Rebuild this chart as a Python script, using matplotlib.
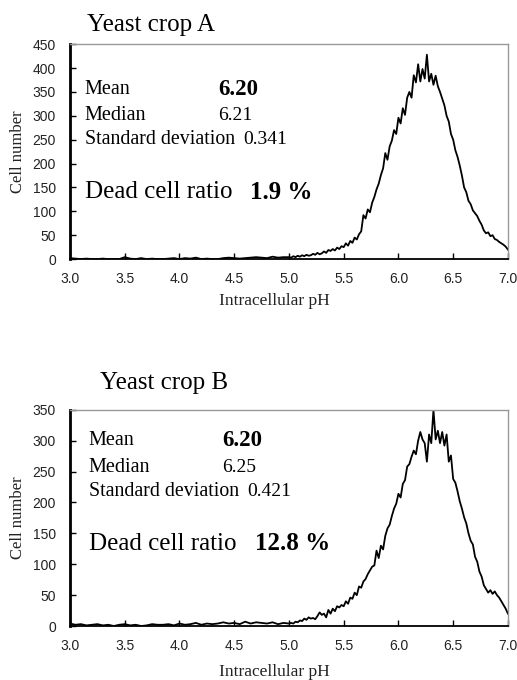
import numpy as np
import matplotlib
matplotlib.use("Agg")
from matplotlib import pyplot as plt

# pH de 3.00 a 4.95 (pas 0.05) puis 5.00 a 7.00 (pas 0.02)
low_a = [2, 1, 0, 1, 0, 0, 1, 0, 0, 0, 4, 1, 0, 2, 0, 1, 0, 0, 1, 2,
         0, 2, 1, 3, 0, 1, 0, 0, 2, 3, 2, 1, 2, 3, 4, 3, 2, 5, 3, 4]
high_a = [4, 3, 6, 4, 7, 5, 8, 6, 9, 7, 8, 11, 9, 13, 10, 12, 16, 13, 19, 17,
          21, 18, 24, 21, 27, 25, 33, 28, 38, 34, 45, 41, 52, 58, 92, 85, 104, 98, 118, 130,
          146, 158, 176, 190, 222, 208, 236, 248, 270, 262, 296, 284, 316, 302, 338, 350, 338, 385, 370, 408,
          372, 398, 378, 428, 372, 388, 365, 384, 362, 350, 336, 322, 300, 288, 262, 250, 228, 214, 196, 175,
          150, 140, 122, 115, 102, 96, 90, 80, 72, 60, 54, 56, 48, 50, 42, 40, 36, 33, 30, 26, 20]

low_b = [4, 2, 3, 1, 2, 3, 1, 2, 0, 2, 3, 1, 2, 0, 1, 3, 2, 2, 3, 1,
         4, 2, 3, 5, 2, 4, 3, 4, 6, 4, 5, 3, 7, 4, 6, 5, 4, 6, 3, 5]
high_b = [4, 5, 4, 7, 6, 9, 8, 12, 10, 14, 12, 13, 11, 16, 22, 18, 20, 14, 26, 20,
          28, 24, 32, 30, 34, 32, 40, 36, 46, 44, 54, 50, 64, 62, 72, 76, 84, 90, 96, 98,
          122, 110, 130, 124, 146, 158, 164, 178, 190, 198, 214, 208, 230, 236, 258, 262, 274, 284, 278, 300,
          314, 302, 296, 266, 310, 296, 350, 302, 316, 296, 314, 292, 310, 266, 276, 238, 232, 218, 202, 190,
          176, 166, 150, 138, 132, 112, 104, 88, 80, 66, 60, 54, 58, 52, 56, 50, 46, 40, 34, 28, 20]

titles = ["Yeast crop A", "Yeast crop B"]
means = ["6.20", "6.20"]
medians = ["6.21", "6.25"]
stds = ["0.341", "0.421"]
dead = ["1.9 %", "12.8 %"]
ymax = [450, 350]
xticks = [3.0, 3.5, 4.0, 4.5, 5.0, 5.5, 6.0, 6.5, 7.0]


def ph_axis(low, high):
    x_low = np.linspace(3.0, 4.95, len(low))
    x_high = np.linspace(5.0, 7.0, len(high))
    return np.concatenate([x_low, x_high]), np.array(low + high)


serif = "Liberation Serif"
fig = plt.figure(figsize=(5.17, 6.8), dpi=100)

# positions des axes (en fraction de figure)
boxes = [[0.1354, 0.619, 0.847, 0.316], [0.1354, 0.0794, 0.847, 0.318]]
# positions des annotations (fraction d'axe)
text_pos = [
    dict(x0=0.034, x1=0.338, x2=0.395, x3=0.411, y=[0.79, 0.67, 0.558, 0.312]),
    dict(x0=0.043, x1=0.347, x2=0.404, x3=0.422, y=[0.856, 0.731, 0.62, 0.38]),
]
title_pos = [(0.168, 0.963), (0.193, 0.437)]
xlabel_y = [0.557, 0.0125]

series = [ph_axis(low_a, high_a), ph_axis(low_b, high_b)]

for i in range(2):
    ax = fig.add_axes(boxes[i])
    x, y = series[i]
    ax.plot(x, y, color="black", linewidth=1.3)
    ax.set_xlim(3.0, 7.0)
    ax.set_ylim(0, ymax[i])
    ax.set_xticks(xticks)
    ax.set_xticklabels(["%.1f" % t for t in xticks])
    ax.set_yticks(np.arange(0, ymax[i] + 1, 50))

    for s in ["top", "right"]:
        ax.spines[s].set_color("#999999")
        ax.spines[s].set_linewidth(1.0)
    ax.spines["left"].set_linewidth(2.0)
    ax.spines["bottom"].set_linewidth(1.3)
    ax.tick_params(axis="x", direction="in", length=4, width=1, pad=9, labelsize=10)
    ax.tick_params(axis="y", direction="in", length=4, width=1, pad=10, labelsize=10)
    for lab in ax.get_xticklabels() + ax.get_yticklabels():
        lab.set_family("Liberation Sans")
        lab.set_color("#222222")

    ax.set_ylabel("Cell number", family=serif, fontsize=12, color="#222222")
    ax.yaxis.set_label_coords(-0.1, 0.5)

    p = text_pos[i]
    ax.text(p["x0"], p["y"][0], "Mean", transform=ax.transAxes, family=serif, fontsize=14.5, va="center")
    ax.text(p["x1"], p["y"][0], means[i], transform=ax.transAxes, family=serif, fontsize=16.5,
            fontweight="bold", va="center")
    ax.text(p["x0"], p["y"][1], "Median", transform=ax.transAxes, family=serif, fontsize=14.5, va="center")
    ax.text(p["x1"], p["y"][1], medians[i], transform=ax.transAxes, family=serif, fontsize=14,
            va="center")
    ax.text(p["x0"], p["y"][2], "Standard deviation", transform=ax.transAxes, family=serif,
            fontsize=14.3, va="center")
    ax.text(p["x2"], p["y"][2], stds[i], transform=ax.transAxes, family=serif, fontsize=14, va="center")
    ax.text(p["x0"], p["y"][3], "Dead cell ratio", transform=ax.transAxes, family=serif, fontsize=18,
            va="center")
    ax.text(p["x3"], p["y"][3], dead[i], transform=ax.transAxes, family=serif, fontsize=18,
            fontweight="bold", va="center")

    fig.text(title_pos[i][0], title_pos[i][1], titles[i], family=serif, fontsize=18, va="center")
    fig.text(0.53, xlabel_y[i], "Intracellular pH", family=serif, fontsize=12.5, ha="center",
             va="center", color="#222222")

fig.savefig("out.png", dpi=100)
